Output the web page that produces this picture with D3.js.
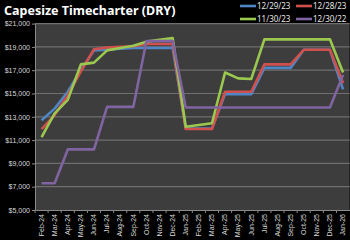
<!DOCTYPE html>
<html>
<head>
<meta charset="utf-8">
<script src="https://cdn.jsdelivr.net/npm/d3@7"></script>
<style>
  body { margin: 0; background: #000; }
  svg { display: block; font-family: "Noto Sans", "Liberation Sans", sans-serif; }
</style>
</head>
<body>
<svg id="chart"></svg>
<script>
// categories
const months = ['Feb-24','Mar-24','Apr-24','May-24','Jun-24','Jul-24','Aug-24','Sep-24','Oct-24','Nov-24','Dec-24',
  'Jan-25','Feb-25','Mar-25','Apr-25','May-25','Jun-25','Jul-25','Aug-25','Sep-25','Oct-25','Nov-25','Dec-25','Jan-26'];

// series values ($/day)
const curve122923 = [12700, 13700, 15150, 17000, 18700, 18750, 18850, 18900, 18900, 18900, 18900,
  12000, 12000, 12000, 14950, 14950, 14950, 17200, 17200, 17200, 18750, 18750, 18750, 15350];
const curve122823 = [11950, 13150, 14850, 16900, 18800, 18950, 19000, 19050, 19250, 19250, 19250,
  11950, 11950, 11950, 15150, 15150, 15150, 17500, 17500, 17500, 18750, 18750, 18750, 15900];
const curve113023 = [11250, 13300, 14450, 17500, 17650, 18700, 18900, 19100, 19450, 19600, 19750,
  12150, 12300, 12450, 16800, 16300, 16250, 19650, 19650, 19650, 19650, 19650, 19650, 16800];
const curve123022 = [7300, 7300, 10200, 10200, 10200, 13850, 13850, 13850, 19500, 19500, 19500,
  13800, 13800, 13800, 13800, 13800, 13800, 13800, 13800, 13800, 13800, 13800, 13800, 16600];

const seriesNames = ['12/29/23', '12/28/23', '11/30/23', '12/30/22'];
const yTicks = [5000, 7000, 9000, 11000, 13000, 15000, 17000, 19000, 21000];

class LineChart {
  constructor(_config, _data) {
    this.config = {
      parentElement: _config.parentElement,
      containerWidth: _config.containerWidth || 350,
      containerHeight: _config.containerHeight || 240,
      margin: _config.margin || { top: 23.6, bottom: 30, right: 0.4, left: 35 },
      colors: _config.colors
    };
    this.data = _data;
    this.initVis();
  }

  initVis() {
    let vis = this;
    vis.width = vis.config.containerWidth - vis.config.margin.left - vis.config.margin.right;
    vis.height = vis.config.containerHeight - vis.config.margin.top - vis.config.margin.bottom;

    vis.xScale = d3.scaleBand()
      .domain(months)
      .range([0, vis.width]);

    vis.yScale = d3.scaleLinear()
      .domain([5000, 21000])
      .range([vis.height, 0]);

    vis.svg = d3.select(vis.config.parentElement)
      .attr('width', vis.config.containerWidth)
      .attr('height', vis.config.containerHeight);

    vis.svg.append('rect')
      .attr('width', vis.config.containerWidth)
      .attr('height', vis.config.containerHeight)
      .attr('fill', '#000');

    // title
    vis.svg.append('text')
      .attr('x', 4)
      .attr('y', 15)
      .attr('fill', '#fff')
      .attr('font-weight', 'bold')
      .attr('font-size', 12.5)
      .text('Capesize Timecharter (DRY)');

    vis.chart = vis.svg.append('g')
      .attr('transform', `translate(${vis.config.margin.left},${vis.config.margin.top})`);

    // plot background
    vis.chart.append('rect')
      .attr('width', vis.width)
      .attr('height', vis.height)
      .attr('fill', '#3d3d3d');

    // gridlines
    vis.chart.selectAll('.grid')
      .data(yTicks.slice(1))
      .join('line')
      .attr('class', 'grid')
      .attr('x1', 0)
      .attr('x2', vis.width)
      .attr('y1', d => vis.yScale(d))
      .attr('y2', d => vis.yScale(d))
      .attr('stroke', '#6f6f6f')
      .attr('stroke-width', 1.2);

    vis.xAxis = d3.axisBottom(vis.xScale).tickSize(3).tickSizeOuter(0);
    vis.yAxis = d3.axisLeft(vis.yScale)
      .tickValues(yTicks)
      .tickFormat(d3.format('$,.0f'))
      .tickSize(3)
      .tickSizeOuter(0);

    vis.xAxisG = vis.chart.append('g')
      .attr('class', 'axis x-axis')
      .attr('transform', `translate(0,${vis.height})`)
      .call(vis.xAxis);

    vis.xAxisG.selectAll('.tick line')
      .attr('transform', `translate(${-vis.xScale.bandwidth() / 2},0)`);
    vis.xAxisG.selectAll('text')
      .attr('transform', 'rotate(-90)')
      .attr('x', -4)
      .attr('y', 0)
      .attr('dy', '0.32em')
      .style('text-anchor', 'end');

    vis.yAxisG = vis.chart.append('g')
      .attr('class', 'axis y-axis')
      .call(vis.yAxis);

    vis.chart.selectAll('.axis path, .axis line').attr('stroke', '#8a8a8a');
    vis.chart.selectAll('.axis text')
      .attr('fill', '#d9d9d9')
      .attr('font-size', 7);
    vis.yAxisG.selectAll('text').attr('x', -5);

    vis.line = d3.line()
      .x((d, i) => vis.xScale(months[i]) + vis.xScale.bandwidth() / 2)
      .y(d => vis.yScale(d));

    vis.renderVis();
  }

  renderVis() {
    let vis = this;

    vis.chart.selectAll('.chart-line')
      .data(vis.data)
      .join('path')
      .attr('class', 'chart-line')
      .attr('stroke', (d, i) => vis.config.colors[i])
      .attr('stroke-width', 2.6)
      .attr('stroke-linejoin', 'round')
      .attr('fill', 'none')
      .attr('d', vis.line);

    // legend, two rows of two
    const legend = vis.svg.selectAll('.legend')
      .data(seriesNames)
      .join('g')
      .attr('class', 'legend')
      .attr('transform', (d, i) => `translate(${240 + (i % 2) * 56},${6 + Math.floor(i / 2) * 13})`);

    legend.append('line')
      .attr('x1', 0)
      .attr('x2', 16)
      .attr('stroke', (d, i) => vis.config.colors[i])
      .attr('stroke-width', 2.6);

    legend.append('text')
      .attr('x', 17)
      .attr('dy', '0.35em')
      .attr('fill', '#e6e6e6')
      .attr('font-size', 8)
      .text(d => d);
  }
}

const chart = new LineChart({
  parentElement: '#chart',
  colors: ['#4f86c6', '#d0504d', '#9bc94f', '#8064a2']
}, [curve122923, curve122823, curve113023, curve123022]);
</script>
</body>
</html>
